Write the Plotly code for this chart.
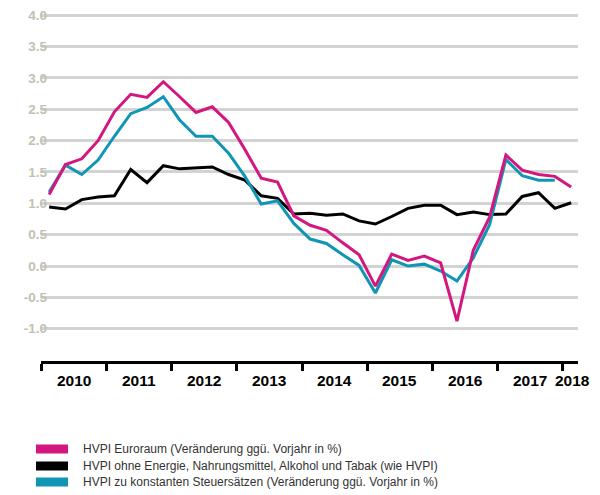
import plotly.graph_objects as go

years = list(range(2010, 2019))
quarters = [y + (q - 0.5) / 4 for y in range(2010, 2019) for q in range(1, 5)][:33]

hvpi = [1.14, 1.62, 1.71, 2.00, 2.46, 2.74, 2.69, 2.94, 2.70, 2.45, 2.54, 2.29,
        1.86, 1.40, 1.34, 0.80, 0.65, 0.57, 0.37, 0.18, -0.32, 0.19, 0.09, 0.16,
        0.05, -0.88, 0.25, 0.78, 1.77, 1.53, 1.46, 1.43, 1.26]
kern = [0.94, 0.91, 1.06, 1.10, 1.12, 1.54, 1.33, 1.60, 1.55, 1.56, 1.58, 1.46,
        1.37, 1.12, 1.08, 0.83, 0.84, 0.81, 0.83, 0.72, 0.67, 0.79, 0.92, 0.97,
        0.97, 0.82, 0.86, 0.82, 0.83, 1.11, 1.17, 0.92, 1.01]
konst = [1.18, 1.61, 1.46, 1.69, 2.07, 2.43, 2.53, 2.70, 2.33, 2.07, 2.07, 1.80,
         1.43, 0.99, 1.04, 0.68, 0.43, 0.36, 0.18, 0.01, -0.43, 0.10, 0.00, 0.03,
         -0.08, -0.24, 0.13, 0.66, 1.70, 1.44, 1.37, 1.37, None]

names = ["HVPI Euroraum (Veränderung ggü. Vorjahr in %)",
         "HVPI ohne Energie, Nahrungsmittel, Alkohol und Tabak (wie HVPI)",
         "HVPI zu konstanten Steuersätzen (Veränderung ggü. Vorjahr in %)"]
colors = ["#d4177e", "#000000", "#1195b5"]
series = [hvpi, kern, konst]

y_ticks = [4.0, 3.5, 3.0, 2.5, 2.0, 1.5, 1.0, 0.5, 0.0, -0.5, -1.0]
x_labels = ["2010", "2011", "2012", "2013", "2014", "2015", "2016", "2017", "2018"]
x_label_pos = [2010.5, 2011.5, 2012.5, 2013.5, 2014.5, 2015.5, 2016.5, 2017.5, 2018.15]

# page has an 8px body margin; figure is sized to fit the 600x495 window
OFF = 8
W, H = 600 - OFF, 495 - OFF
L, T = 41 - OFF, 9 - OFF
R = W - (578 - OFF)
B = H - (361 - OFF)
PW, PH = W - L - R, H - T - B

fig = go.Figure()
for idx in [1, 2, 0]:
    fig.add_trace(go.Scatter(x=quarters, y=series[idx], mode="lines", name=names[idx],
                             line=dict(color=colors[idx], width=3), showlegend=False))

fig.update_layout(
    width=W, height=H,
    margin=dict(l=L, r=R, t=T, b=B),
    paper_bgcolor="white", plot_bgcolor="white",
    font=dict(family="Liberation Sans, Arial, sans-serif"),
    xaxis=dict(range=[2010, 2018.23], tickvals=years, ticktext=[""] * len(years),
               ticks="outside", ticklen=7, tickwidth=3, tickcolor="black",
               showline=True, linecolor="black", linewidth=3,
               showgrid=False, zeroline=False, automargin=False),
    yaxis=dict(range=[-1.515, 4.1], tickvals=y_ticks,
               ticktext=[f"{v:.1f}" for v in y_ticks],
               tickfont=dict(size=13.5, color="#c3c0b2", weight="bold",
                             family="Liberation Sans, Arial, sans-serif"),
               ticklabeloverflow="allow", ticklabelstandoff=-7,
               showgrid=True, gridcolor="#d3d3d3", gridwidth=3,
               zeroline=False, showline=False, ticks="", automargin=False),
)

for lab, pos in zip(x_labels, x_label_pos):
    fig.add_annotation(x=pos, y=0, xref="x", yref="paper", text=f"<b>{lab}</b>",
                       showarrow=False, yanchor="top", yshift=-9,
                       font=dict(size=15.5, color="black"))


def py_to_paper(py):
    return (H - (py - OFF) - B) / PH


def px_to_paper(px):
    return (px - OFF - L) / PW


leg_y = [449, 466, 482]
for name, col, py in zip(names, colors, leg_y):
    fig.add_shape(type="rect", xref="paper", yref="paper",
                  x0=px_to_paper(36), x1=px_to_paper(68),
                  y0=py_to_paper(py + 4.5), y1=py_to_paper(py - 4.5),
                  fillcolor=col, line=dict(width=0))
    fig.add_annotation(x=px_to_paper(81), y=py_to_paper(py),
                       xref="paper", yref="paper", text=name, showarrow=False,
                       xanchor="left", yanchor="middle",
                       font=dict(size=12, color="#333333"))

fig.write_html("out.html")
